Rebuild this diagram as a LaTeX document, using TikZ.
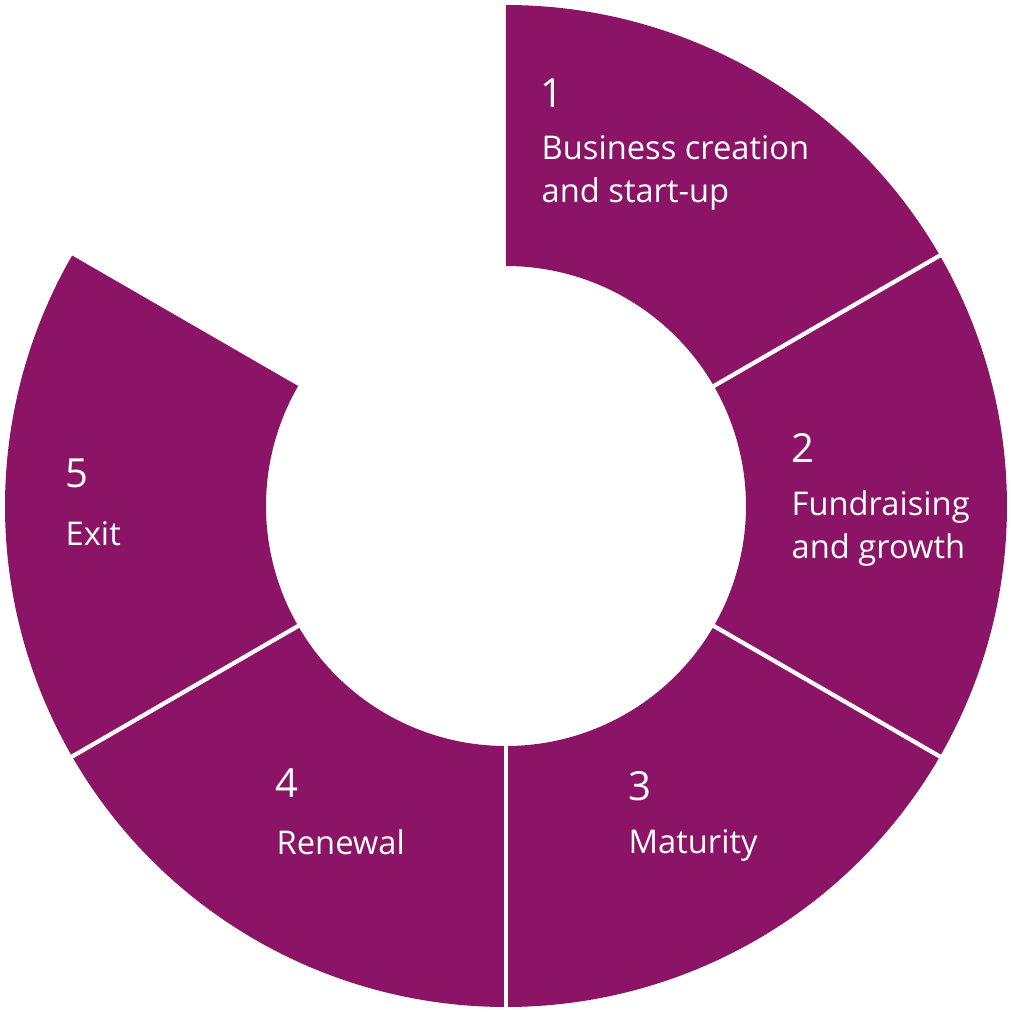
\documentclass[tikz,border=0pt]{standalone}
\usepackage{fontspec}
\setmainfont{Open Sans}
\usepackage{tikz}
\usetikzlibrary{positioning}
\definecolor{CPurple}{RGB}{139,20,103}

\begin{document}
\begin{tikzpicture}[
    seg/.style={fill=CPurple},
    sep/.style={draw=white, line width=1.2pt},
    num/.style={
      text=white,
      font=\fontsize{11.4}{13}\selectfont,
      anchor=base west,
      inner sep=0pt
    },
    lbl/.style={
      text=white,
      font=\fontsize{9.3}{12.2}\selectfont,
      anchor=base west,
      align=left,
      inner sep=0pt
    }
  ]
    \useasboundingbox (-5.06,-5.06) rectangle (5.06,5.06);

    % ring segments
    \foreach \a/\b in {90/30, 30/-30, -30/-90, -90/-150, -150/-210}
      \fill[seg] (\a:2.4) -- (\a:5.01) arc[start angle=\a, end angle=\b, radius=5.01]
        -- (\b:2.4) arc[start angle=\b, end angle=\a, radius=2.4] -- cycle;

    % white gaps between segments
    \foreach \a in {30,-30,-90,-150}
      \draw[sep] (\a:2.3) -- (\a:5.1);

    % two-line labels sit on their last baseline
    \node[num] (n1) at (0.34,3.99) {1};
    \node[lbl] (t1) at (0.35,3.04) {Business creation\\and start-up};

    \node[num] (n2) at (2.85,0.44) {2};
    \node[lbl] (t2) at (2.85,-0.52) {Fundraising\\and growth};

    \node[num] (n3) at (1.22,-2.94) {3};
    \node[lbl] (t3) at (1.22,-3.47) {Maturity};

    \node[num] (n4) at (-2.31,-2.91) {4};
    \node[lbl] (t4) at (-2.30,-3.48) {Renewal};

    \node[num] (n5) at (-4.41,0.19) {5};
    \node[lbl] (t5) at (-4.41,-0.39) {Exit};
  \end{tikzpicture}
\end{document}
